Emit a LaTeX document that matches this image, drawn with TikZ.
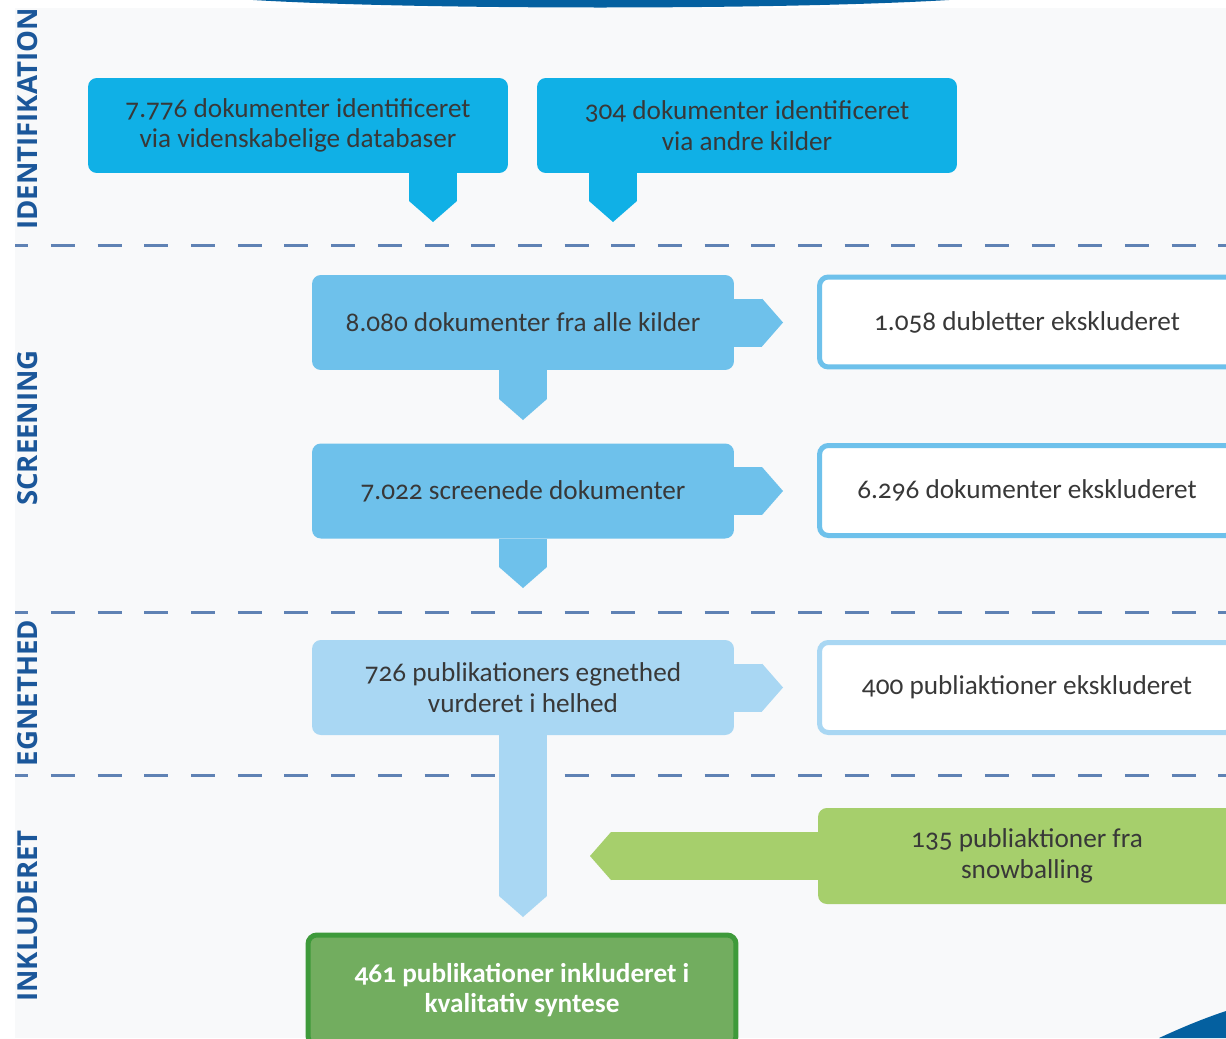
\documentclass[tikz,border=0pt]{standalone}
\usepackage{fontspec}
\setmainfont{Carlito}[Numbers=OldStyle]
\newfontfamily\labelfont{Open Sans}
\usetikzlibrary{arrows.meta,positioning}
\definecolor{baggrund}{HTML}{F8F9FA}
\definecolor{moerkblaa}{HTML}{0460A0}
\definecolor{fasefarve}{HTML}{1B579A}
\definecolor{skillefarve}{HTML}{5F82B4}
\definecolor{tekstgraa}{HTML}{383838}
\definecolor{cyanblaa}{HTML}{10B0E6}
\definecolor{mellemblaa}{HTML}{6EC1EB}
\definecolor{lyseblaa}{HTML}{A9D7F3}
\definecolor{lysegroen}{HTML}{A6CF6C}
\definecolor{moerkgroen}{HTML}{72AD5F}
\definecolor{kantgroen}{HTML}{3E9A3A}
\tikzset{
  boks/.style={
    rounded corners=5pt,
    align=center,
    minimum width=8.44cm,
    minimum height=1.9cm,
    inner sep=4pt,
    text=tekstgraa,
    font=\fontsize{15.5}{17.5}\selectfont
  },
  udboks/.style={
    boks,
    fill=white,
    line width=0.1cm,
    minimum width=8.3cm,
    minimum height=1.8cm
  },
  fane/.style={
    line width=0.96cm,
    -{Triangle[length=0.42cm, width=0.96cm, line width=0pt]}
  },
  fase/.style={
    rotate=90,
    text=fasefarve,
    font=\labelfont\bfseries\fontsize{15.7}{18}\selectfont
  },
  skille/.style={
    skillefarve,
    line width=0.06cm,
    dash pattern=on 0.48cm off 0.454cm,
    dash phase=0.214cm
  }
}
\begin{document}
\begin{tikzpicture}[x=0.02cm,y=-0.02cm]
\fill[white] (0,0) rectangle (1226,1038);
\fill[baggrund] (15,8) rectangle (1226,1038);
\useasboundingbox (0,0) rectangle (1226,1038);
% blaa kant foroven og forneden
\fill[moerkblaa] (253,0) .. controls (420,10) and (780,10) .. (949,0) -- cycle;
\fill[moerkblaa] (1159,1038) .. controls (1185,1026) and (1205,1018) .. (1226,1011) -- (1226,1038) -- cycle;

% skillelinjer mellem faserne
\foreach \y in {245,612,775}
  \draw[skille] (15,\y) -- (1226,\y);

% faser
\node[fase] (identifikation) at (28,119) {IDENTIFIKATION};
\node[fase] (screening) at (28,428) {SCREENING};
\node[fase] (egnethed) at (28,693) {EGNETHED};
\node[fase] (inkluderet) at (28,916) {INKLUDERET};

% bokse
\node[boks, fill=cyanblaa, minimum width=8.4cm] (databaser) at (298,125.5) {7.776 dokumenter identificeret\\via videnskabelige databaser};
\node[boks, fill=cyanblaa, minimum width=8.4cm] (andre) at (747,125.5) {304 dokumenter identificeret\\via andre kilder};
\node[boks, fill=mellemblaa] (alle) at (523,322.5) {8.080 dokumenter fra alle kilder};
\node[udboks, draw=mellemblaa] (dubletter) at (1027,322) {1.058 dubletter ekskluderet};
\node[boks, fill=mellemblaa] (screenede) at (523,491) {7.022 screenede dokumenter};
\node[udboks, draw=mellemblaa] (eksk1) at (1027,490.5) {6.296 dokumenter ekskluderet};
\node[boks, fill=lyseblaa] (vurderet) at (523,687.5) {726 publikationers egnethed\\vurderet i helhed};
\node[udboks, draw=lyseblaa] (eksk2) at (1027,687.5) {400 publiaktioner ekskluderet};
\node[boks, fill=lysegroen, minimum width=8.36cm, minimum height=1.92cm] (snowball) at (1027,856) {135 publiaktioner fra\\snowballing};
\node[boks, fill=moerkgroen, draw=kantgroen, line width=0.1cm, minimum width=8.56cm, minimum height=2.2cm,
  text=white, font=\bfseries\fontsize{15.5}{17.5}\selectfont] (syntese) at (522,990) {461 publikationer inkluderet i\\kvalitativ syntese};

% spidser
\coordinate (databaser-spids) at (433,222);
\coordinate (andre-spids) at (613,222);
\coordinate (alle-spids) at (523,420);
\coordinate (screenede-spids) at (523,588);
\coordinate (vurderet-spids) at (523,917);
\coordinate (alle-hoejre) at (783,322.5);
\coordinate (screenede-hoejre) at (783,491);
\coordinate (vurderet-hoejre) at (783,687.5);
\coordinate (snowball-spids) at (590,856);

\draw[fane, cyanblaa] (databaser.south -| databaser-spids) -- (databaser-spids);
\draw[fane, cyanblaa] (andre.south -| andre-spids) -- (andre-spids);
\draw[fane, mellemblaa] (alle.south) -- (alle-spids);
\draw[fane, mellemblaa] (alle.east) -- (alle-hoejre);
\draw[fane, mellemblaa] (screenede.south) -- (screenede-spids);
\draw[fane, mellemblaa] (screenede.east) -- (screenede-hoejre);
\draw[fane, lyseblaa] (vurderet.south) -- (vurderet-spids);
\draw[fane, lyseblaa] (vurderet.east) -- (vurderet-hoejre);
\draw[fane, lysegroen] (snowball.west) -- (snowball-spids);
\end{tikzpicture}
\end{document}
